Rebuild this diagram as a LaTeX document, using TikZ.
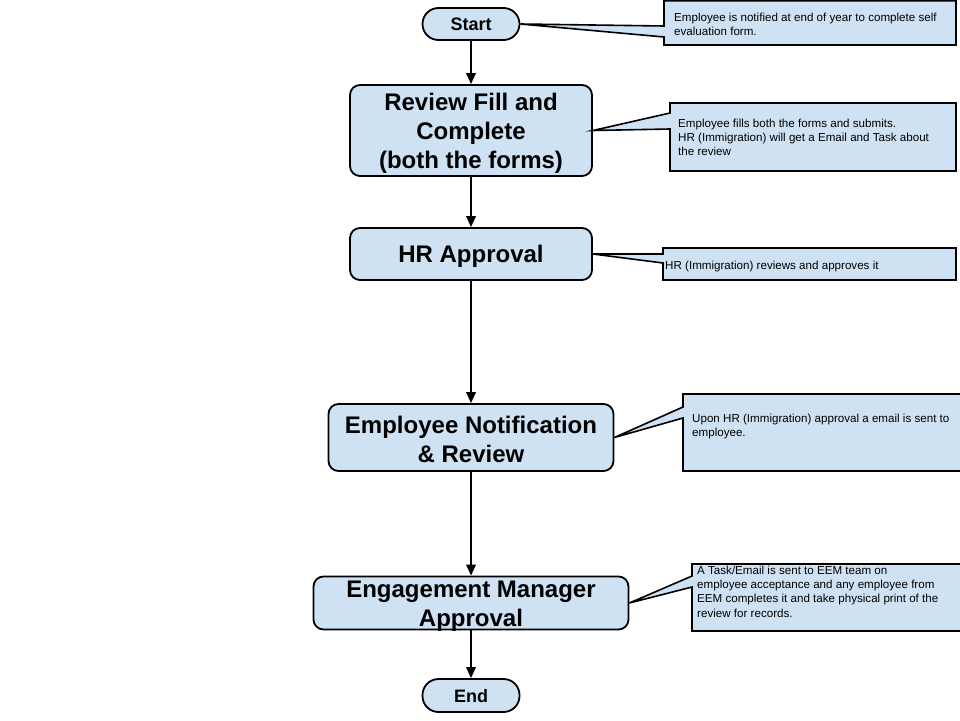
\documentclass[tikz,border=0pt]{standalone}
\usepackage{fontspec}
\setmainfont{Liberation Sans}
\usetikzlibrary{arrows.meta}
\definecolor{boxblue}{HTML}{CFE2F3}
\tikzset{
  flowbox/.style={draw=black, fill=boxblue, line width=1.8pt, rounded corners=10pt, inner sep=0pt},
  termbox/.style={draw=black, fill=boxblue, line width=1.8pt, rounded corners=16pt, inner sep=0pt},
  flowtext/.style={align=center, inner sep=0pt, font=\fontsize{24}{29}\selectfont\bfseries},
  termtext/.style={align=center, inner sep=0pt, font=\fontsize{18}{21}\selectfont\bfseries},
  callout/.style={draw=black, fill=boxblue, line width=1.6pt, line join=miter},
  notetext/.style={anchor=north west, inner sep=0pt, align=left,
    font=\fontsize{11.6}{14}\selectfont},
  flowarrow/.style={line width=1.9pt, -{Triangle[length=11pt,width=9.5pt]}}
}
\begin{document}
\begin{tikzpicture}[x=1pt,y=-1pt]
\useasboundingbox (0,0) rectangle (960,720);
\clip (0,0) rectangle (960,720);
\fill[white] (0,0) rectangle (960,720);

% flow shapes
\node[termbox, minimum width=97pt, minimum height=32pt] (start) at (471,24) {};
\node[flowbox, minimum width=242pt, minimum height=91pt] (review) at (471,130.5) {};
\node[flowbox, minimum width=242pt, minimum height=52pt] (hr) at (471,254) {};
\node[flowbox, minimum width=285pt, minimum height=67pt] (empn) at (471,437.5) {};
\node[flowbox, minimum width=315pt, minimum height=53pt] (eng) at (471,603) {};
\node[termbox, minimum width=97pt, minimum height=33pt] (end) at (471,695.5) {};

% flow texts
\node[termtext, yshift=-0.5pt] (starttxt) at (start.center) {Start};
\node[flowtext, yshift=-3pt] (reviewtxt) at (review.center) {Review Fill and\\Complete\\(both the forms)};
\node[flowtext, yshift=-2.5pt] (hrtxt) at (hr.center) {HR Approval};
\node[flowtext, yshift=-1.5pt] (empntxt) at (empn.center) {Employee Notification\\\& Review};
\node[flowtext, yshift=-3.5pt] (engtxt) at (eng.center) {Engagement Manager\\Approval};
\node[termtext, yshift=-0.5pt] (endtxt) at (end.center) {End};

% connectors
\draw[flowarrow] (start.south) -- (review.north);
\draw[flowarrow] (review.south) -- (hr.north);
\draw[flowarrow] (hr.south) -- (empn.north);
\draw[flowarrow] (empn.south) -- (eng.north);
\draw[flowarrow] (eng.south) -- (end.north);

% callouts
\draw[callout] (664,0.8) -- (956,0.8) -- (956,45) -- (664,45) -- (664,37) -- (start.east) -- (664,26) -- cycle;
\node[notetext] (n1) at (674,12.5) {Employee is notified at end of year to complete self\\evaluation form.};

\draw[callout] (670,103) -- (956,103) -- (956,171) -- (670,171) -- (670,129) -- (review.east) -- (670,113) -- cycle;
\node[notetext] (n2) at (678,118.5) {Employee fills both the forms and submits.\\HR (Immigration) will get a Email and Task about\\the review};

\draw[callout] (663,248) -- (956,248) -- (956,280) -- (663,280) -- (663,263) -- (hr.east) -- (663,254) -- cycle;
\node[notetext] (n3) at (665,260.5) {HR (Immigration) reviews and approves it};

\draw[callout] (683,394) -- (970,394) -- (970,471) -- (683,471) -- (683,418) -- (empn.east) -- (683,407) -- cycle;
\node[notetext] (n4) at (692,413.5) {Upon HR (Immigration) approval a email is sent to\\employee.};

\draw[callout] (692,564) -- (970,564) -- (970,631) -- (692,631) -- (692,587) -- (eng.east) -- (692,576) -- cycle;
\node[notetext, font=\fontsize{11.6}{14.3}\selectfont] (n5) at (697,565.5) {A Task/Email is sent to EEM team on\\employee acceptance and any employee from\\EEM completes it and take physical print of the\\review for records.};
\end{tikzpicture}
\end{document}
